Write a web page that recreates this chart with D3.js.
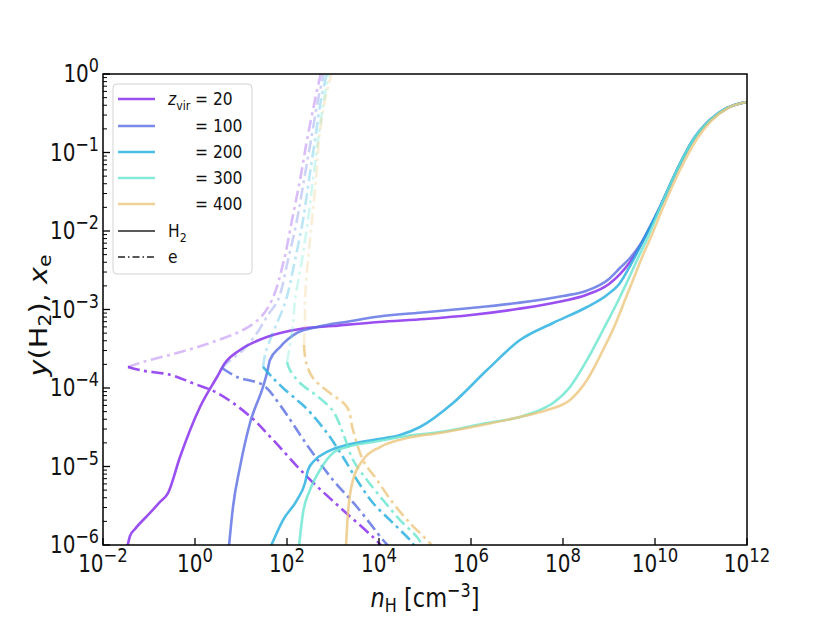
<!DOCTYPE html>
<html><head><meta charset="utf-8">
<script src="https://cdn.jsdelivr.net/npm/d3@7"></script>
<style>body{margin:0;background:#fff} svg{display:block} text{font-family:"DejaVu Sans",sans-serif;fill:#111}</style>
</head><body><svg id="c" width="830" height="623"></svg>
<script>
// ---- data: log10(n_H) and log10(abundance) ----
const zvir = [20, 100, 200, 300, 400];
const colors = ["#8223ec", "#596de2", "#1facdf", "#68e5ce", "#ecc67d"];

const h2_z20_logn = [-1.467,-1.413,-1.304,-0.978,-0.761,-0.587,-0.326,0.109,0.478,0.652,0.978,1.565,2.283,3.0,4,5,6,7,8,8.5,9,9.239,9.457,9.674,9.891,10.109,10.478,10.826,11.196,11.565,12];
const h2_z20_logy = [-6.013,-5.885,-5.796,-5.592,-5.452,-5.338,-4.879,-4.242,-3.860,-3.682,-3.516,-3.350,-3.248,-3.210,-3.159,-3.121,-3.070,-2.994,-2.892,-2.815,-2.675,-2.548,-2.395,-2.191,-1.949,-1.694,-1.223,-0.841,-0.586,-0.433,-0.357];

const h2_z100_logn = [0.739,0.826,0.978,1.196,1.478,1.565,1.630,1.848,2.217,2.652,3.370,4,5,6,7,8,8.5,9,9.239,9.457,9.674,9.891,10.109,10.478,10.826,11.196,11.565,12];
const h2_z100_logy = [-6.013,-5.516,-5.006,-4.446,-3.987,-3.809,-3.643,-3.478,-3.299,-3.223,-3.150,-3.090,-3.035,-2.981,-2.917,-2.828,-2.764,-2.611,-2.471,-2.344,-2.178,-1.949,-1.694,-1.223,-0.841,-0.586,-0.433,-0.357];

const h2_z200_logn = [1.652,1.913,2.217,2.391,2.457,2.609,2.870,3.304,3.870,4.457,4.891,5.609,6.348,7.065,7.783,8.522,8.957,9.239,9.457,9.674,9.891,10.109,10.478,10.826,11.196,11.565,12];
const h2_z200_logy = [-6.013,-5.682,-5.427,-5.210,-5.045,-4.917,-4.815,-4.726,-4.662,-4.599,-4.497,-4.191,-3.771,-3.389,-3.172,-2.968,-2.815,-2.662,-2.446,-2.204,-1.949,-1.694,-1.223,-0.841,-0.586,-0.433,-0.357];

const h2_z300_logn = [2.261,2.348,2.500,2.717,3.0,3.304,3.870,4.609,5.326,6.348,7.065,7.500,7.783,8.152,8.522,8.870,9.174,9.413,9.630,9.848,10.109,10.478,10.826,11.196,11.565,12];
const h2_z300_logy = [-6.013,-5.592,-5.299,-5.045,-4.828,-4.752,-4.688,-4.611,-4.561,-4.446,-4.369,-4.280,-4.191,-3.987,-3.643,-3.261,-2.917,-2.624,-2.344,-2.076,-1.707,-1.223,-0.841,-0.586,-0.433,-0.357];

const h2_z400_logn = [3.283,3.326,3.435,3.652,4.022,4.609,5.326,6.348,7.065,7.652,8.152,8.522,8.870,9.130,9.348,9.565,9.739,9.913,10.152,10.522,10.870,11.217,11.587,12];
const h2_z400_logy = [-6.013,-5.592,-5.172,-4.917,-4.752,-4.637,-4.573,-4.459,-4.369,-4.280,-4.153,-3.898,-3.516,-3.197,-2.879,-2.561,-2.306,-2.076,-1.732,-1.248,-0.866,-0.599,-0.433,-0.357];

// electron fraction: faint (early, rising) branch and main branch
const e_z20_faint_logn = [-1.457,-1.130,-0.391,0.326,1.043,1.413,1.674,1.935,2.109,2.283,2.435,2.609,2.739];
const e_z20_faint_logy = [-3.732,-3.669,-3.554,-3.427,-3.261,-3.108,-2.879,-2.369,-1.860,-1.350,-0.841,-0.331,0.02];
const e_z20_logn = [-1.457,-1.13,-0.543,-0.043,0.478,1.196,1.696,2.435,3.15,3.87,4.07];
const e_z20_logy = [-3.732,-3.78,-3.83,-3.94,-4.06,-4.36,-4.66,-5.13,-5.52,-5.90,-6.02];

const e_z100_faint_logn = [0.587,0.696,1.043,1.348,1.587,1.804,2.022,2.217,2.370,2.522,2.674,2.804];
const e_z100_faint_logy = [-3.745,-3.682,-3.516,-3.299,-3.070,-2.879,-2.369,-1.860,-1.350,-0.841,-0.331,0.02];
const e_z100_logn = [0.587,0.913,1.478,1.848,2.435,3.0,3.522,4.087,4.217];
const e_z100_logy = [-3.745,-3.860,-3.962,-4.217,-4.726,-5.172,-5.516,-5.936,-6.02];

const e_z200_faint_logn = [1.478,1.522,1.630,1.783,1.978,2.174,2.348,2.478,2.609,2.739,2.870];
const e_z200_faint_logy = [-3.732,-3.580,-3.389,-3.172,-2.879,-2.369,-1.860,-1.350,-0.841,-0.331,0.02];
const e_z200_logn = [1.478,1.674,1.913,2.217,2.435,2.870,3.217,3.522,3.870,4.304,4.674,4.783];
const e_z200_logy = [-3.732,-3.860,-4.0,-4.153,-4.268,-4.573,-4.879,-5.172,-5.465,-5.720,-5.936,-6.02];

const e_z300_faint_logn = [2.0,2.065,2.130,2.174,2.326,2.457,2.565,2.674,2.804,2.913];
const e_z300_faint_logy = [-3.669,-3.452,-3.197,-2.879,-2.369,-1.860,-1.350,-0.841,-0.331,0.02];
const e_z300_logn = [2.0,2.065,2.283,2.652,3.0,3.217,3.435,3.739,4.087,4.457,4.826,4.957];
const e_z300_logy = [-3.669,-3.771,-3.936,-4.102,-4.293,-4.573,-4.917,-5.172,-5.427,-5.682,-5.898,-6.02];

const e_z400_faint_logn = [2.370,2.391,2.391,2.457,2.543,2.630,2.696,2.826,2.978];
const e_z400_faint_logy = [-3.452,-3.134,-2.879,-2.369,-1.860,-1.350,-0.841,-0.331,0.02];
const e_z400_logn = [2.370,2.413,2.565,2.935,3.304,3.435,3.652,3.957,4.304,4.674,5.043,5.174];
const e_z400_logy = [-3.452,-3.669,-3.873,-4.064,-4.242,-4.535,-4.917,-5.172,-5.465,-5.720,-5.936,-6.02];

const xTickExp = [-2,0,2,4,6,8,10,12];
const yTickExp = [-6,-5,-4,-3,-2,-1,0];

// ---- build ----
const toPts = (ln, ly) => ln.map((v,i)=>({n:Math.pow(10,v), y:Math.pow(10,ly[i])}));
const h2 = [[h2_z20_logn,h2_z20_logy],[h2_z100_logn,h2_z100_logy],[h2_z200_logn,h2_z200_logy],[h2_z300_logn,h2_z300_logy],[h2_z400_logn,h2_z400_logy]];
const eF = [[e_z20_faint_logn,e_z20_faint_logy],[e_z100_faint_logn,e_z100_faint_logy],[e_z200_faint_logn,e_z200_faint_logy],[e_z300_faint_logn,e_z300_faint_logy],[e_z400_faint_logn,e_z400_faint_logy]];
const eM = [[e_z20_logn,e_z20_logy],[e_z100_logn,e_z100_logy],[e_z200_logn,e_z200_logy],[e_z300_logn,e_z300_logy],[e_z400_logn,e_z400_logy]];

const m = {l:103, r:747, t:74, b:545};
const SY = 1.2; // vertical stretch of text in the reference
const svg = d3.select("#c");
const x = d3.scaleLog().domain([1e-2,1e12]).range([m.l,m.r]);
const y = d3.scaleLog().domain([1e-6,1]).range([m.b,m.t]);

svg.append("defs").append("clipPath").attr("id","clip")
  .append("rect").attr("x",m.l).attr("y",m.t).attr("width",m.r-m.l).attr("height",m.b-m.t);

const lineH = d3.line().x(d=>x(d.n)).y(d=>y(d.y)).curve(d3.curveMonotoneX);
const lineE = d3.line().x(d=>x(d.n)).y(d=>y(d.y)).curve(d3.curveCatmullRom.alpha(0.5));
const g = svg.append("g").attr("clip-path","url(#clip)");
const dash = "12,4.5,3,4.5";

zvir.forEach((z,i)=>{
  g.append("path").attr("d", lineH(toPts(...h2[i]))).attr("fill","none")
    .attr("stroke",colors[i]).attr("stroke-width",2.6).attr("stroke-opacity",0.8);
  g.append("path").attr("d", lineE(toPts(...eF[i]))).attr("fill","none")
    .attr("stroke",colors[i]).attr("stroke-width",2.6).attr("stroke-opacity",0.3)
    .attr("stroke-dasharray",dash);
  g.append("path").attr("d", lineE(toPts(...eM[i]))).attr("fill","none")
    .attr("stroke",colors[i]).attr("stroke-width",2.6).attr("stroke-opacity",0.8)
    .attr("stroke-dasharray",dash);
});

// ---- axes ----
const ax = svg.append("g").attr("stroke","#000");
xTickExp.forEach(e=>{
  const px = x(Math.pow(10,e));
  ax.append("line").attr("x1",px).attr("x2",px).attr("y1",m.b).attr("y2",m.b-7).attr("stroke-width",1.3);
});
yTickExp.forEach(e=>{
  const py = y(Math.pow(10,e));
  ax.append("line").attr("x1",m.l).attr("x2",m.l+7).attr("y1",py).attr("y2",py).attr("stroke-width",1.3);
  if (e < 0) for (let k=2;k<=9;k++){
    const pm = y(k*Math.pow(10,e));
    ax.append("line").attr("x1",m.l).attr("x2",m.l+4).attr("y1",pm).attr("y2",pm).attr("stroke-width",1);
  }
});
svg.append("rect").attr("x",m.l).attr("y",m.t).attr("width",m.r-m.l).attr("height",m.b-m.t)
  .attr("fill","none").attr("stroke","#000").attr("stroke-width",1.5);

const txt = (px, py) => svg.append("text").attr("transform",`translate(${px},${py}) scale(1,${SY})`);
const sup = e => (e<0?"\u2212":"")+Math.abs(e);
xTickExp.forEach(e=>{
  const t = txt(x(Math.pow(10,e)), 572).attr("text-anchor","middle").attr("font-size",20);
  t.append("tspan").text("10");
  t.append("tspan").attr("dy",-8).attr("font-size",16.5).text(sup(e));
});
yTickExp.forEach(e=>{
  const t = txt(m.l-4, y(Math.pow(10,e))+8).attr("text-anchor","end").attr("font-size",20);
  t.append("tspan").text("10");
  t.append("tspan").attr("dy",-8).attr("font-size",16).text(sup(e));
});

// axis titles
const xt = txt((m.l+m.r)/2, 607).attr("text-anchor","middle").attr("font-size",22.5);
xt.append("tspan").attr("font-style","italic").text("n");
xt.append("tspan").attr("dy",4).attr("font-size",16).text("H");
xt.append("tspan").attr("dy",-4).text(" [cm");
xt.append("tspan").attr("dy",-8).attr("font-size",16).text("\u22123");
xt.append("tspan").attr("dy",8).text("]");

const yt = svg.append("text").attr("transform",`translate(47,${(m.t+m.b)/2+6}) scale(1,${SY}) rotate(-90)`).attr("text-anchor","middle").attr("font-size",24);
yt.append("tspan").attr("font-style","italic").text("y");
yt.append("tspan").text("(H");
yt.append("tspan").attr("dy",4).attr("font-size",17).text("2");
yt.append("tspan").attr("dy",-4).text("), ");
yt.append("tspan").attr("font-style","italic").text("x");
yt.append("tspan").attr("dy",4).attr("font-size",17).text("e");

// ---- legend ----
const lg = svg.append("g");
lg.append("rect").attr("x",113).attr("y",84).attr("width",139).attr("height",190).attr("rx",4)
  .attr("fill","#fff").attr("fill-opacity",0.8).attr("stroke","#d3d3d3").attr("stroke-width",1);
const rowY = [99,126,152,178,204,231,257];
const ltxt = (px, py) => lg.append("text").attr("transform",`translate(${px},${py}) scale(1,1.15)`).attr("font-size",15.5);
zvir.forEach((z,i)=>{
  lg.append("line").attr("x1",118).attr("x2",155).attr("y1",rowY[i]).attr("y2",rowY[i])
    .attr("stroke",colors[i]).attr("stroke-width",2.6).attr("stroke-opacity",0.8);
  if (i===0){
    const t = ltxt(168, rowY[i]+6);
    t.append("tspan").attr("font-style","italic").text("z");
    t.append("tspan").attr("dy",4).attr("font-size",11).text("vir");
  }
  ltxt(195, rowY[i]+6).text("= "+z);
});
lg.append("line").attr("x1",118).attr("x2",155).attr("y1",rowY[5]).attr("y2",rowY[5])
  .attr("stroke","#222").attr("stroke-width",1.5);
const th = ltxt(168, rowY[5]+6);
th.append("tspan").text("H");
th.append("tspan").attr("dy",4).attr("font-size",11).text("2");
lg.append("line").attr("x1",118).attr("x2",155).attr("y1",rowY[6]).attr("y2",rowY[6])
  .attr("stroke","#222").attr("stroke-width",1.5).attr("stroke-dasharray","7,3,1.5,3");
ltxt(168, rowY[6]+6).text("e");
</script>
</body></html>
